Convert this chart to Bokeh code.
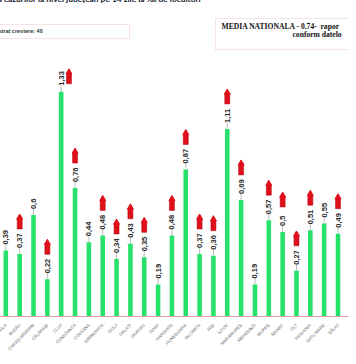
import math
from bokeh.plotting import figure
from bokeh.models import Range1d, FixedTicker, Label, BoxAnnotation
from bokeh.core.properties import value
from bokeh.embed import file_html
from bokeh.resources import INLINE

# ---- data ----
judete = ["BRAȘOV", "BRĂILA", "BUZĂU", "CARAȘ-SEVERIN", "CĂLĂRAȘI", "CLUJ",
          "CONSTANȚA", "COVASNA", "DÂMBOVIȚA", "DOLJ", "GALAȚI", "GIURGIU",
          "GORJ", "HARGHITA", "HUNEDOARA", "IALOMIȚA", "IAȘI", "ILFOV",
          "MARAMUREȘ", "MEHEDINȚI", "MUREȘ", "NEAMȚ", "OLT", "PRAHOVA",
          "SATU MARE", "SĂLAJ"]
incidenta = [0.82, 0.39, 0.37, 0.6, 0.22, 1.33, 0.76, 0.44, 0.48, 0.34, 0.43,
             0.35, 0.19, 0.48, 0.87, 0.37, 0.36, 1.11, 0.69, 0.19, 0.57, 0.5,
             0.27, 0.51, 0.55, 0.49]
crestere = [1, 0, 1, 0, 1, 1, 1, 0, 1, 1, 1, 1, 0, 1, 1, 1, 1, 1, 1, 0, 1, 1,
            1, 1, 0, 1]
titlu = "i a cazurilor la nivel județean pe 14 zile la ‰ de locuitori"
text_crestere = "gistrat crestere: 40"
media_nationala = "0.74"
text_media_1 = "MEDIA NATIONALA - " + media_nationala + "-\u00a0\u00a0rapor"
text_media_2 = "conform datelo"

# ---- geometry / style ----
W, H = 356, 364
BOTTOM = 40
FH = H - BOTTOM
SX = 13.84           # px per category
SY = 169.0           # px per unit
X0 = 0.036
xs = list(range(len(judete)))

def px2x(px):
    return X0 + px / SX

def py2y(py):
    return (FH - py) / SY

VERDE = "#26e26a"
ROSU = "#e0101a"

p = figure(width=W, height=H, output_backend="svg", toolbar_location=None,
           x_range=Range1d(X0, X0 + W / SX), y_range=Range1d(0, FH / SY),
           min_border_left=0, min_border_right=0, min_border_top=0,
           min_border_bottom=BOTTOM, outline_line_color=None,
           background_fill_color="white", border_fill_color="white")
p.styles = {"margin-left": "-8px", "margin-top": "-8px"}

p.xgrid.visible = False
p.ygrid.visible = False
p.yaxis.visible = False

p.vbar(x=xs, top=incidenta, width=0.33, fill_color=VERDE, line_color=None)

# leader lines
p.segment(x0=xs, y0=incidenta, x1=xs, y1=[v + 6 / SY for v in incidenta],
          line_color="#a0a0a0", line_width=0.7)

etichete = [("%g" % v).replace(".", ",") for v in incidenta]
p.text(x=xs, y=incidenta, text=etichete, angle=math.pi / 2, y_offset=-6,
       text_align="left", text_baseline="middle",
       text_font=value("Liberation Sans"), text_font_size="7.5px",
       text_font_style="bold", text_color="#2a2a2a")

# red up-arrows
ax, ay = [], []
for i, (v, c) in enumerate(zip(incidenta, crestere)):
    if not c:
        continue
    if v > 1.2:
        ax.append(i + 0.56)
        ay.append(v + 13 / SY)
    else:
        ax.append(i)
        ay.append(v + 30 / SY)
p.rect(x=ax, y=ay, width=5, height=10, width_units="screen",
       height_units="screen", fill_color=ROSU, line_color="#b00010",
       line_width=0.5)
p.scatter(x=ax, y=[y + 6.5 / SY for y in ay], marker="triangle", size=6,
          fill_color=ROSU, line_color=ROSU)

# x axis
p.xaxis.ticker = FixedTicker(ticks=xs)
p.xaxis.major_label_overrides = {i: n for i, n in zip(xs, judete)}
p.xaxis.major_label_orientation = math.pi / 4
p.xaxis.major_label_text_font_size = "4.3px"
p.xaxis.major_label_text_color = "#666666"
p.xaxis.major_tick_line_color = None
p.xaxis.minor_tick_line_color = None
p.xaxis.axis_line_color = "#e4a0a0"
p.xaxis.major_label_standoff = 2

# title
p.add_layout(Label(x=px2x(1), y=py2y(6.5), text=titlu, text_baseline="middle",
                   text_font="Lato", text_font_size="8.4px",
                   text_font_style="bold", text_color="#141a2e"))

# left box
p.add_layout(BoxAnnotation(left=px2x(-5), right=px2x(137), top=py2y(32),
                           bottom=py2y(46), fill_color="white", fill_alpha=1,
                           line_color="#e4a3a6", line_width=1))
p.add_layout(Label(x=px2x(1), y=py2y(38.5), text=text_crestere,
                   text_baseline="middle", text_font="Liberation Sans",
                   text_font_size="5.5px", text_font_style="bold",
                   text_color="#333333"))

# right box
p.add_layout(BoxAnnotation(left=px2x(223), right=px2x(380), top=py2y(26),
                           bottom=py2y(57), fill_color="white", fill_alpha=1,
                           line_color="#e4a3a6", line_width=1))
p.add_layout(Label(x=px2x(229), y=py2y(34), text=text_media_1,
                   text_baseline="middle", text_font="Liberation Serif",
                   text_font_size="7.6px", text_font_style="bold",
                   text_color="#111111"))
p.add_layout(Label(x=px2x(300), y=py2y(41.5), text=text_media_2,
                   text_baseline="middle", text_font="Liberation Serif",
                   text_font_size="7.6px", text_font_style="bold",
                   text_color="#111111"))

open("out.html", "w").write(file_html(p, INLINE))
